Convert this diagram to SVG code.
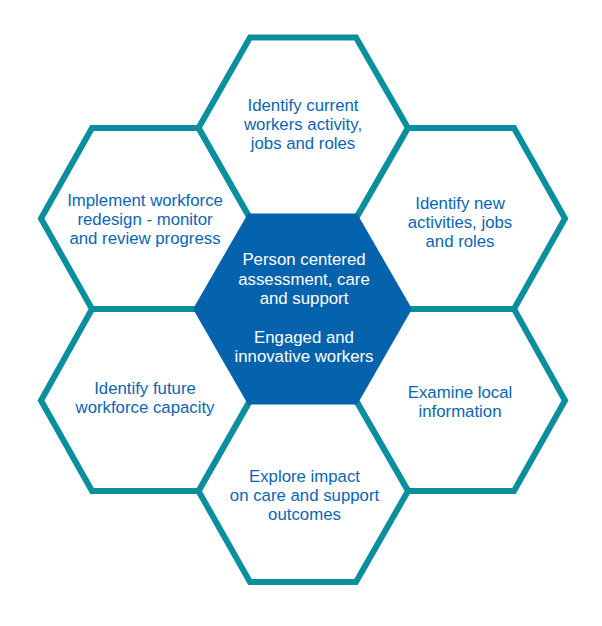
<svg xmlns="http://www.w3.org/2000/svg" width="602" height="626" viewBox="0 0 602 626">
<defs><style>
.h{fill:#fff;stroke:#0a8f9f;stroke-width:6;stroke-linejoin:miter}
.c{fill:#0563ae}
text{font-family:"Liberation Sans",Arial,sans-serif;font-size:16.800px;text-anchor:middle;fill:#0a66b4}
text.w{fill:#fff}
</style></defs>
<rect width="602" height="626" fill="#fff"/>
<g id="node-top"><polygon class="h" points="250,37.500 356,37.500 408,128 356,218.500 250,218.500 198.500,128"/>
<text x="303" y="110.500">Identify current</text><text x="303" y="130">workers activity,</text><text x="303" y="149">jobs and roles</text></g>
<g id="node-upper-right"><polygon class="h" points="408,128 514,128 565,218.500 514,309 408,309 356,218.500"/>
<text x="460" y="208.500">Identify new</text><text x="460" y="228">activities, jobs</text><text x="460" y="247">and roles</text></g>
<g id="node-lower-right"><polygon class="h" points="408,309 514,309 565,400.500 514,491 408,491 356,400.500"/>
<text x="460" y="398">Examine local</text><text x="460" y="417">information</text></g>
<g id="node-bottom"><polygon class="h" points="250,400.500 356,400.500 408,491 356,582 250,582 198.500,491"/>
<text x="304.500" y="481.500">Explore impact</text><text x="304.500" y="501">on care and support</text><text x="304.500" y="519.500">outcomes</text></g>
<g id="node-lower-left"><polygon class="h" points="92,309 198.500,309 250,400.500 198.500,491 92,491 41,400.500"/>
<text x="145" y="394">Identify future</text><text x="145" y="413">workforce capacity</text></g>
<g id="node-upper-left"><polygon class="h" points="92,128 198.500,128 250,218.500 198.500,309 92,309 41,218.500"/>
<text x="145" y="206">Implement workforce</text><text x="145" y="225">redesign - monitor</text><text x="145" y="244">and review progress</text></g>
<g id="node-center"><polygon class="c" points="248,213.500 357,213.500 412,309 357,404.500 248,404.500 193,309"/>
<text class="w" x="304" y="265">Person centered</text><text class="w" x="304" y="285">assessment, care</text><text class="w" x="304" y="304">and support</text><text class="w" x="304" y="343">Engaged and</text><text class="w" x="304" y="362">innovative workers</text></g>
<g id="connectors"></g>
</svg>
